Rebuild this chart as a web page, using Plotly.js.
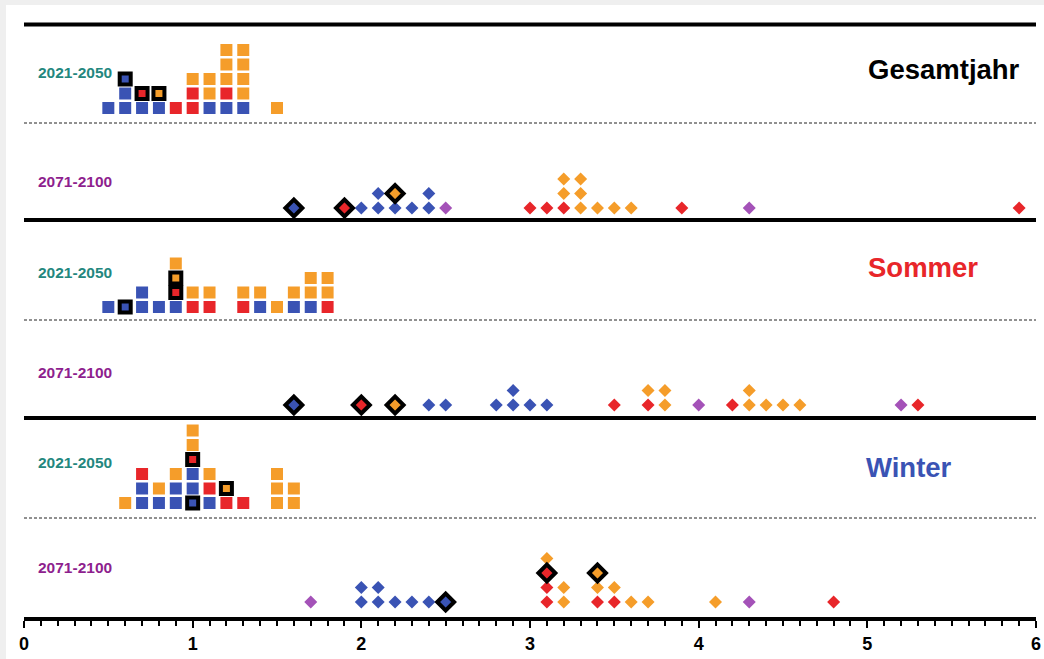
<!DOCTYPE html>
<html><head><meta charset="utf-8">
<script src="https://cdn.plot.ly/plotly-3.0.1.min.js"></script>
<style>
html,body{margin:0;padding:0;background:#efefef;width:1044px;height:659px;overflow:hidden;}
#chart{position:absolute;left:6px;top:5px;width:1038px;height:654px;}
</style>
</head><body><div id="chart"></div>
<script>
// Colour codes: B blue, R red, O orange, P purple; lowercase = highlighted (black frame)
const colorMap = {B:'#3a53b4', R:'#e8262a', O:'#f59d2a', P:'#a452b8'};

// Gesamtjahr 2021-2050
const gesamt2021X = [0.5,0.6,0.7,0.8,0.9,1.0,1.1,1.2,1.3,1.5];
const gesamt2021Stacks = ['B','BBb','Br','Bo','R','RRO','BOO','BROOO','BOOOO','O'];
// Gesamtjahr 2071-2100
const gesamt2071X = [1.6,1.9,2.0,2.1,2.2,2.3,2.4,2.5,3.0,3.1,3.2,3.3,3.4,3.5,3.6,3.9,4.3,5.9];
const gesamt2071Stacks = ['b','r','B','BB','Bo','B','BB','P','R','R','ROO','OOO','O','O','O','R','P','R'];
// Sommer 2021-2050
const sommer2021X = [0.5,0.6,0.7,0.8,0.9,1.0,1.1,1.3,1.4,1.5,1.6,1.7,1.8];
const sommer2021Stacks = ['B','b','BB','B','BroO','RO','RO','RO','BO','O','BO','BOO','ROO'];
// Sommer 2071-2100
const sommer2071X = [1.6,2.0,2.2,2.4,2.5,2.8,2.9,3.0,3.1,3.5,3.7,3.8,4.0,4.2,4.3,4.4,4.5,4.6,5.2,5.3];
const sommer2071Stacks = ['b','r','o','B','B','B','BB','B','B','R','RO','OO','P','R','OO','O','O','O','P','R'];
// Winter 2021-2050
const winter2021X = [0.6,0.7,0.8,0.9,1.0,1.1,1.2,1.3,1.5,1.6];
const winter2021Stacks = ['O','BBR','BO','BBO','bBBrOO','BRO','Ro','R','OOO','OO'];
// Winter 2071-2100
const winter2071X = [1.7,2.0,2.1,2.2,2.3,2.4,2.5,3.1,3.2,3.4,3.5,3.6,3.7,4.1,4.3,4.8];
const winter2071Stacks = ['P','BB','BB','B','B','B','b','RRrO','OO','ROo','RO','O','O','O','P','R'];

const seasonTitles = ['Gesamtjahr','Sommer','Winter'];
const periodLabels = ['2021-2050','2071-2100'];
const xTickVals = [0,1,2,3,4,5,6];

// layout (pixel units above the axis line)
const ROW = 14.5;
const panels = [
  {x:gesamt2021X, s:gesamt2021Stacks, base:509, sym:'square'},
  {x:gesamt2071X, s:gesamt2071Stacks, base:409, sym:'diamond'},
  {x:sommer2021X, s:sommer2021Stacks, base:310, sym:'square'},
  {x:sommer2071X, s:sommer2071Stacks, base:212, sym:'diamond'},
  {x:winter2021X, s:winter2021Stacks, base:114, sym:'square'},
  {x:winter2071X, s:winter2071Stacks, base:15, sym:'diamond'}
];

const traces = panels.map(p => {
  const norm = {x:[],y:[],c:[]}, hi = {x:[],y:[],c:[]};
  p.x.forEach((xv,i) => {
    const st = p.s[i];
    for (let k=0;k<st.length;k++){
      const ch = st[k];
      const tgt = (ch === ch.toLowerCase()) ? hi : norm;
      tgt.x.push(xv); tgt.y.push(p.base + k*ROW); tgt.c.push(colorMap[ch.toUpperCase()]);
    }
  });
  const isSq = p.sym === 'square';
  const xs = norm.x.concat(hi.x), ys = norm.y.concat(hi.y), cs = norm.c.concat(hi.c);
  const sizes = norm.x.map(()=> isSq?12:10).concat(hi.x.map(()=> isSq?11:13));
  const lw = norm.x.map(()=>0).concat(hi.x.map(()=>4));
  return {type:'scatter', mode:'markers', x:xs, y:ys, cliponaxis:false, hoverinfo:'skip',
    marker:{symbol:p.sym, color:cs, size:sizes, opacity:1, line:{color:'#000', width:lw}}};
});

const thickY = [592.5, 397, 199];
const dashY = [494, 297, 99];
const shapes = [];
thickY.forEach(y => shapes.push({type:'line', xref:'x', yref:'y', x0:0, x1:6.02, y0:y, y1:y, line:{color:'#000', width:4}, layer:'below'}));
dashY.forEach(y => shapes.push({type:'line', xref:'x', yref:'y', x0:0, x1:6.02, y0:y, y1:y, line:{color:'#222', width:1, dash:'3px,2px'}, layer:'below'}));

const titleColors = ['#000000','#e8262a','#3a53b4'];
const titleX = [5.455, 5.33, 5.247];
const titleY = [548, 350, 150];
const labY21 = [544.5, 345, 155];
const labY71 = [436, 245, 50];
const annotations = [];
seasonTitles.forEach((t,i) => {
  annotations.push({text:'<b>'+t+'</b>', xref:'x', yref:'y', x:titleX[i], y:titleY[i], showarrow:false,
    xanchor:'center', yanchor:'middle', font:{family:'Liberation Sans, Arial, sans-serif', size:27.5, color:titleColors[i]}});
  annotations.push({text:'<b>'+periodLabels[0]+'</b>', xref:'x', yref:'y', x:0.305, y:labY21[i], showarrow:false,
    xanchor:'center', yanchor:'middle', font:{family:'Liberation Sans, Arial, sans-serif', size:15.5, color:'#23877e'}});
  annotations.push({text:'<b>'+periodLabels[1]+'</b>', xref:'x', yref:'y', x:0.305, y:labY71[i], showarrow:false,
    xanchor:'center', yanchor:'middle', font:{family:'Liberation Sans, Arial, sans-serif', size:15.5, color:'#8e1f8e'}});
});

const layout = {
  width:1038, height:654,
  margin:{l:18, r:8, t:0, b:42, pad:0},
  paper_bgcolor:'#ffffff', plot_bgcolor:'#ffffff',
  showlegend:false,
  xaxis:{range:[0,6], showgrid:false, zeroline:false, showline:true, linecolor:'#000', linewidth:4,
    ticks:'outside', tickvals:xTickVals, ticktext:xTickVals.map(String), ticklen:7, tickwidth:2, tickcolor:'#000',
    minor:{dtick:0.1, tick0:0, ticks:'outside', ticklen:5, tickwidth:2, tickcolor:'#000', showgrid:false},
    tickfont:{family:'Liberation Sans Narrow, Arial Narrow, Liberation Sans, sans-serif', size:18, color:'#000', weight:'bold'},
    fixedrange:true},
  yaxis:{range:[0,612], visible:false, showgrid:false, zeroline:false, fixedrange:true},
  shapes:shapes, annotations:annotations
};

Plotly.newPlot('chart', traces, layout, {displayModeBar:false, staticPlot:true});
</script></body></html>
